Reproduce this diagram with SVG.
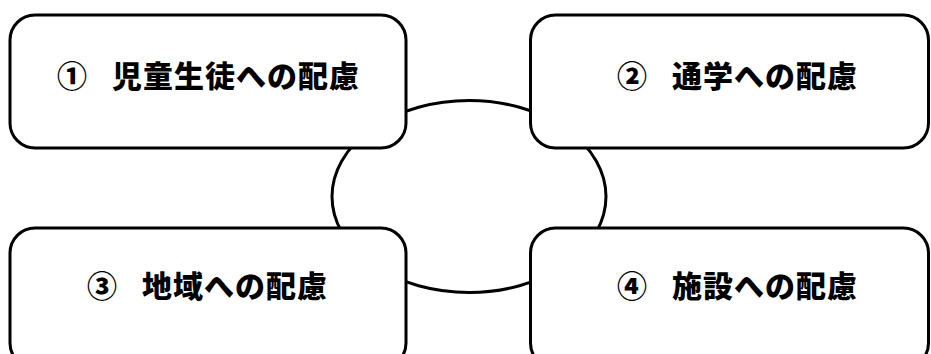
<svg xmlns="http://www.w3.org/2000/svg" width="931" height="354" viewBox="0 0 931 354">
<style>
.box{fill:#fff;stroke:#000;stroke-width:3}
.ring{fill:none;stroke:#000;stroke-width:3}
.lbl{font-family:"Noto Sans CJK JP","Noto Sans",sans-serif;font-weight:900;font-size:30px;fill:#000}
.main{letter-spacing:1px}
</style>
<rect width="931" height="354" fill="#fff"/>
<g id="connectors">
<ellipse class="ring" cx="469" cy="196.5" rx="137" ry="96"/>
</g>
<g id="node1">
<rect class="box" x="10" y="15" width="396" height="133" rx="25"/>
<text class="lbl" x="57" y="87">①<tspan class="main" x="112">児童生徒への配慮</tspan></text>
</g>
<g id="node2">
<rect class="box" x="530.5" y="15" width="398" height="133" rx="25"/>
<text class="lbl" x="617" y="87">②<tspan class="main" x="672">通学への配慮</tspan></text>
</g>
<g id="node3">
<rect class="box" x="10" y="228" width="396" height="140" rx="25"/>
<text class="lbl" x="87" y="297">③<tspan class="main" x="142">地域への配慮</tspan></text>
</g>
<g id="node4">
<rect class="box" x="530.5" y="228" width="398" height="140" rx="25"/>
<text class="lbl" x="617" y="297">④<tspan class="main" x="672">施設への配慮</tspan></text>
</g>
</svg>
